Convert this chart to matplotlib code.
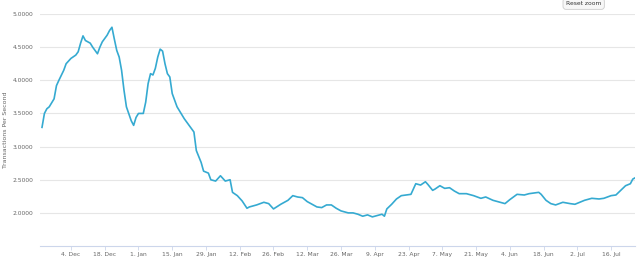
import numpy as np
import pandas as pd
import matplotlib
matplotlib.use("Agg")
import matplotlib.pyplot as plt

# transactions per second
dates = [
    "2017-11-22", "2017-11-23", "2017-11-24", "2017-11-25", "2017-11-27", "2017-11-28",
    "2017-11-29", "2017-12-01", "2017-12-02", "2017-12-04", "2017-12-06", "2017-12-07",
    "2017-12-08", "2017-12-09", "2017-12-10", "2017-12-12", "2017-12-13", "2017-12-15",
    "2017-12-16", "2017-12-17", "2017-12-19", "2017-12-20", "2017-12-21", "2017-12-22",
    "2017-12-23", "2017-12-24", "2017-12-25", "2017-12-26", "2017-12-27", "2017-12-29",
    "2017-12-30", "2017-12-31", "2018-01-01", "2018-01-03", "2018-01-04", "2018-01-05",
    "2018-01-06", "2018-01-07", "2018-01-08", "2018-01-09", "2018-01-10", "2018-01-11",
    "2018-01-12", "2018-01-13", "2018-01-14", "2018-01-15", "2018-01-17", "2018-01-18",
    "2018-01-20", "2018-01-22", "2018-01-24", "2018-01-25", "2018-01-27", "2018-01-28",
    "2018-01-30", "2018-01-31", "2018-02-02", "2018-02-04", "2018-02-06", "2018-02-08",
    "2018-02-09", "2018-02-11", "2018-02-13", "2018-02-15", "2018-02-16", "2018-02-19",
    "2018-02-22", "2018-02-24", "2018-02-26", "2018-03-01", "2018-03-04", "2018-03-06",
    "2018-03-08", "2018-03-10", "2018-03-12", "2018-03-14", "2018-03-16", "2018-03-18",
    "2018-03-20", "2018-03-22", "2018-03-24", "2018-03-26", "2018-03-29", "2018-03-31",
    "2018-04-02", "2018-04-04", "2018-04-06", "2018-04-08", "2018-04-10", "2018-04-12",
    "2018-04-13", "2018-04-14", "2018-04-16", "2018-04-18", "2018-04-20", "2018-04-22",
    "2018-04-24", "2018-04-25", "2018-04-26", "2018-04-28", "2018-04-30", "2018-05-01",
    "2018-05-03", "2018-05-04", "2018-05-06", "2018-05-08", "2018-05-10", "2018-05-12",
    "2018-05-14", "2018-05-17", "2018-05-20", "2018-05-23", "2018-05-25", "2018-05-28",
    "2018-05-31", "2018-06-02", "2018-06-04", "2018-06-07", "2018-06-10", "2018-06-12",
    "2018-06-16", "2018-06-17", "2018-06-19", "2018-06-21", "2018-06-23", "2018-06-26",
    "2018-06-29", "2018-07-01", "2018-07-03", "2018-07-05", "2018-07-08", "2018-07-11",
    "2018-07-13", "2018-07-16", "2018-07-18", "2018-07-20", "2018-07-22", "2018-07-24",
    "2018-07-25", "2018-07-26",
]
tps = [
    3.29, 3.50, 3.57, 3.60, 3.72, 3.92,
    4.00, 4.15, 4.25, 4.33, 4.38, 4.43,
    4.56, 4.67, 4.60, 4.56, 4.50, 4.40,
    4.50, 4.58, 4.68, 4.75, 4.80, 4.62,
    4.45, 4.35, 4.15, 3.85, 3.60, 3.39,
    3.32, 3.44, 3.50, 3.50, 3.67, 3.95,
    4.10, 4.08, 4.18, 4.35, 4.47, 4.44,
    4.25, 4.10, 4.05, 3.80, 3.60, 3.54,
    3.42, 3.32, 3.22, 2.94, 2.76, 2.63,
    2.60, 2.50, 2.48, 2.56, 2.48, 2.50,
    2.31, 2.26, 2.18, 2.07, 2.09, 2.12,
    2.16, 2.14, 2.06, 2.13, 2.19, 2.26,
    2.24, 2.23, 2.17, 2.13, 2.09, 2.08,
    2.12, 2.12, 2.07, 2.03, 2.00, 2.00,
    1.98, 1.95, 1.97, 1.94, 1.96, 1.98,
    1.95, 2.06, 2.13, 2.21, 2.26, 2.27,
    2.28, 2.36, 2.44, 2.42, 2.47, 2.43,
    2.34, 2.36, 2.41, 2.37, 2.38, 2.33,
    2.29, 2.29, 2.26, 2.22, 2.24, 2.19,
    2.16, 2.14, 2.20, 2.28, 2.27, 2.29,
    2.31, 2.28, 2.19, 2.14, 2.12, 2.16,
    2.14, 2.13, 2.16, 2.19, 2.22, 2.21,
    2.22, 2.26, 2.27, 2.34, 2.41, 2.44,
    2.51, 2.53,
]
tick_dates = ["2017-12-04", "2017-12-18", "2018-01-01", "2018-01-15", "2018-01-29",
              "2018-02-12", "2018-02-26", "2018-03-12", "2018-03-26", "2018-04-09",
              "2018-04-23", "2018-05-07", "2018-05-21", "2018-06-04", "2018-06-18",
              "2018-07-02", "2018-07-16"]
y_ticks = [2.0, 2.5, 3.0, 3.5, 4.0, 4.5, 5.0]

x = pd.to_datetime(dates)
xt = pd.to_datetime(tick_dates)

fig = plt.figure(figsize=(6.4, 2.59), dpi=100)
ax = fig.add_axes([0.0625, 0.050, 0.930, 0.896])

ax.plot(x, tps, color="#35aad1", linewidth=1.2)

ax.set_ylim(1.5, 5.0)
ax.set_xlim(pd.Timestamp("2017-11-21 04:00"), pd.Timestamp("2018-07-26 00:00"))

ax.set_yticks(y_ticks)
ax.set_yticklabels([f"{v:.4f}" for v in y_ticks])
ax.set_xticks(xt)
ax.set_xticklabels([d.strftime("%-d. %b") for d in xt])

ax.grid(axis="y", color="#e6e6e6", linewidth=0.8)
ax.set_axisbelow(True)
for s in ["top", "right", "left"]:
    ax.spines[s].set_visible(False)
ax.spines["bottom"].set_color("#ccd6eb")
ax.spines["bottom"].set_linewidth(0.8)

ax.tick_params(axis="y", length=0, labelsize=4.3, labelcolor="#666666", pad=5)
ax.tick_params(axis="x", length=3, width=0.6, color="#ccd6eb",
               labelsize=4.3, labelcolor="#666666", pad=1.5)

ax.set_ylabel("Transactions Per Second", fontsize=4.5, color="#666666")
ax.yaxis.set_label_coords(-0.053, 0.5)

fig.text(0.912, 0.985, "Reset zoom", fontsize=4.3, color="#333333",
         ha="center", va="center",
         bbox=dict(boxstyle="round,pad=0.5", fc="#f7f7f7", ec="#cccccc", lw=0.6))

fig.savefig("out.png", dpi=100)
